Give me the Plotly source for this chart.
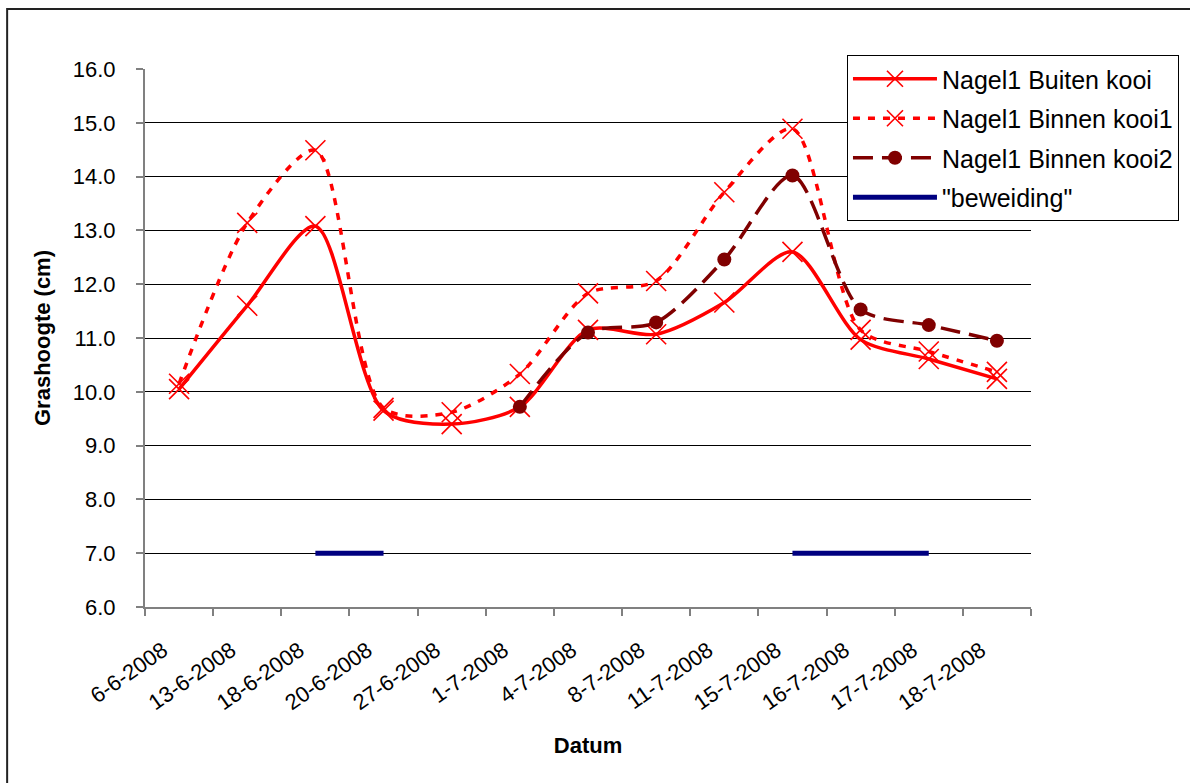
import plotly.graph_objects as go

categories = ["6-6-2008", "13-6-2008", "18-6-2008", "20-6-2008", "27-6-2008", "1-7-2008",
              "4-7-2008", "8-7-2008", "11-7-2008", "15-7-2008", "16-7-2008", "17-7-2008", "18-7-2008"]
buiten = [10.05, 11.6, 13.08, 9.65, 9.4, 9.72, 11.15, 11.07, 11.66, 12.6, 10.97, 10.61, 10.24]
binnen1 = [10.15, 13.14, 14.49, 9.7, 9.62, 10.33, 11.83, 12.06, 13.71, 14.89, 11.15, 10.75, 10.37]
binnen2 = [None, None, None, None, None, 9.72, 11.1, 11.29, 12.46, 14.02, 11.53, 11.24, 10.95]
beweiding = [None, None, 7.0, 7.0, None, None, None, None, None, 7.0, 7.0, 7.0, None]
y_ticks = [6.0, 7.0, 8.0, 9.0, 10.0, 11.0, 12.0, 13.0, 14.0, 15.0, 16.0]

FONT = "Liberation Sans, Arial, sans-serif"
RED = "#FF0000"
DARKRED = "#800000"
NAVY = "#000080"

fig = go.Figure()
fig.add_trace(go.Scatter(
    x=categories, y=buiten, name="Nagel1 Buiten kooi", mode="lines+markers", legendgroup="a",
    line=dict(color=RED, width=3.5, shape="spline", smoothing=0.8),
    marker=dict(symbol="x-thin", size=20, color=RED, line=dict(color=RED, width=1.6)),
))
fig.add_trace(go.Scatter(
    x=categories, y=binnen1, name="Nagel1 Binnen kooi1", mode="lines+markers", legendgroup="b",
    line=dict(color=RED, width=3.5, shape="spline", smoothing=0.8, dash="7px,8px"),
    marker=dict(symbol="x-thin", size=20, color=RED, line=dict(color=RED, width=1.6)),
))
fig.add_trace(go.Scatter(
    x=categories, y=binnen2, name="Nagel1 Binnen kooi2", mode="lines+markers", legendgroup="c",
    line=dict(color=DARKRED, width=3.5, shape="spline", smoothing=0.8, dash="20px,9px"),
    marker=dict(symbol="circle", size=14, color=DARKRED),
))
fig.add_trace(go.Scatter(
    x=categories, y=beweiding, name="\"beweiding\"", mode="lines", legendgroup="d",
    line=dict(color=NAVY, width=5),
))

# outer chart border
fig.add_shape(type="rect", xref="paper", yref="paper",
              x0=-0.1556, x1=1.2, y0=-0.4, y1=1.1115,
              line=dict(color="#222222", width=2), layer="below")

fig.update_layout(
    width=1190, height=783,
    margin=dict(l=145, r=158, t=69, b=176),
    paper_bgcolor="white", plot_bgcolor="white",
    font=dict(family=FONT, color="black"),
    showlegend=True,
    legend=dict(
        x=0.7914, y=1.026, xanchor="left", yanchor="top",
        bgcolor="white", bordercolor="black", borderwidth=1,
        font=dict(size=25, family=FONT, color="black"),
        traceorder="grouped", tracegroupgap=4, itemwidth=84,
    ),
    xaxis=dict(
        type="category", categoryorder="array", categoryarray=categories,
        range=[-0.5, 12.5],
        showgrid=False, showline=True, linecolor="#808080", linewidth=2,
        ticks="outside", tickson="boundaries", ticklen=7, tickcolor="#808080", tickwidth=1.5,
        tickangle=-35, tickfont=dict(size=22, family=FONT, color="black"),
        ticklabelstandoff=20, ticklabelshift=-16,
        title=dict(text="<b>Datum</b>", font=dict(size=22, family=FONT, color="black"), standoff=24),
    ),
    yaxis=dict(
        range=[6, 16], tickvals=y_ticks, tickformat=".1f",
        showgrid=True, gridcolor="black", gridwidth=1,
        showline=True, linecolor="#808080", linewidth=2,
        ticks="outside", ticklen=7, tickcolor="#808080", tickwidth=1.5,
        tickfont=dict(size=22, family=FONT, color="black"),
        ticklabelstandoff=16,
        title=dict(text="<b>Grashoogte (cm)</b>", font=dict(size=22, family=FONT, color="black"), standoff=16),
        zeroline=False,
    ),
)

fig.write_html("out.html", config={"displayModeBar": False},
               post_script="document.body.style.margin='0px';")
